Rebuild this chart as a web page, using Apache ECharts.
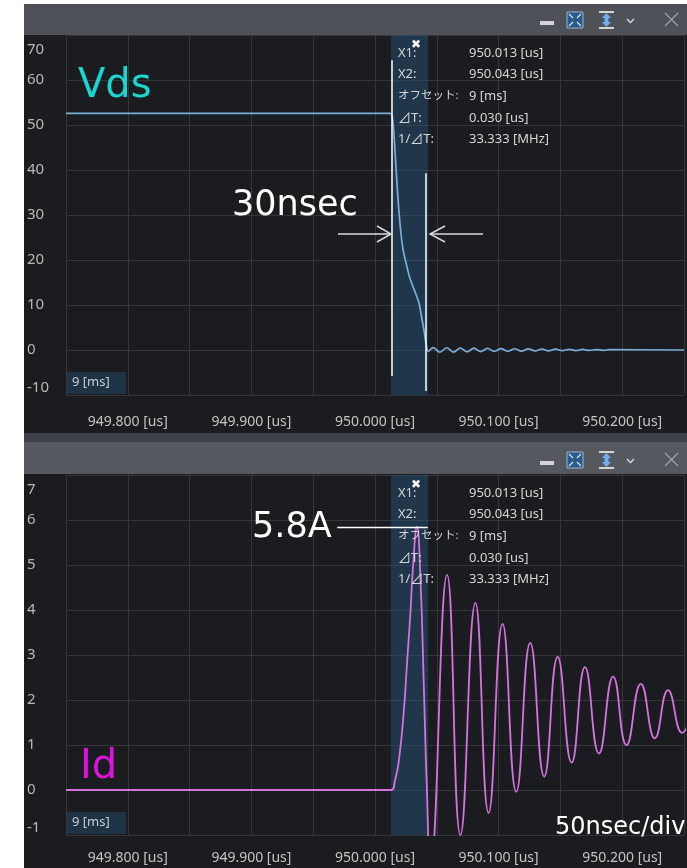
<!DOCTYPE html>
<html><head><meta charset="utf-8">
<script src="https://cdn.jsdelivr.net/npm/echarts@6/dist/echarts.min.js"></script>
<style>html,body{margin:0;padding:0;background:#fff}#c{width:687px;height:868px}</style>
</head><body><div id="c"></div>
<script>
// ---------- data ----------
const xTickValues = [949.8, 949.9, 950.0, 950.1, 950.2];
const xTickLabels = ['949.800 [us]', '949.900 [us]', '950.000 [us]', '950.100 [us]', '950.200 [us]'];

const vdsTime = [949.750, 950.0121, 950.0137, 950.0153, 950.0169, 950.0185, 950.0206, 950.0226, 950.0250,
  950.0282, 950.0323, 950.0355, 950.0379, 950.0399, 950.0415, 950.0431,
  950.0470, 950.0525, 950.0580, 950.0635, 950.0690, 950.0745, 950.0800, 950.0855, 950.0910, 950.0965,
  950.1020, 950.1075, 950.1130, 950.1185, 950.1240, 950.1295, 950.1350, 950.1405, 950.1460, 950.1515,
  950.1570, 950.1625, 950.1680, 950.1735, 950.1790, 950.1845, 950.1900, 950.2500];
const vdsValue = [52.6, 52.6, 52.3, 48.0, 41.0, 34.0, 27.0, 22.5, 19.5,
  16.0, 13.0, 10.5, 7.0, 4.0, 1.0, -0.3,
  0.55, -0.5, 0.5, -0.45, 0.45, -0.4, 0.4, -0.35, 0.35, -0.3,
  0.3, -0.28, 0.28, -0.25, 0.25, -0.2, 0.2, -0.18, 0.18, -0.15,
  0.15, -0.12, 0.12, -0.1, 0.1, -0.08, 0.08, 0.0];

const idTime = [949.750, 950.0129, 950.0161, 950.0194, 950.0234, 950.0261, 950.0288, 950.0306, 950.0339,
  950.0369, 950.0395, 950.0419, 950.0448, 950.0583, 950.0691, 950.0812, 950.0919, 950.1032, 950.1143,
  950.1256, 950.1369, 950.1478, 950.1591, 950.1699, 950.1812, 950.1927, 950.2035, 950.2151, 950.2264,
  950.2371, 950.2484, 950.2597];
const idValue = [0, 0, 0.2, 0.67, 1.78, 2.9, 4.0, 4.9, 5.85,
  4.6, 2.3, 0.1, -1.7, 4.78, -1.0, 4.16, -0.51, 3.69, -0.04,
  3.27, 0.30, 2.96, 0.61, 2.73, 0.81, 2.52, 1.0, 2.36, 1.15,
  2.22, 1.27, 2.12];

const cursorX = [950.013, 950.043];
const cursorLabels = ['X1:', 'X2:', 'オフセット:', '⊿T:', '1/⊿T:'];
const cursorValues = ['950.013 [us]', '950.043 [us]', '9 [ms]', '0.030 [us]', '33.333 [MHz]'];

// annotation positions (data coords)
const vdsMarkX = [950.0134, 950.0409];
const vdsMarkY = [[64.4, -5.8], [39.3, -9.1]];
const idMarkX = [949.9694, 950.0427];
const idMarkY = 5.85;

// ---------- chart ----------
const chart = echarts.init(document.getElementById('c'));
const FONT = '"Noto Sans", "Noto Sans CJK JP", sans-serif';
const gridColor = '#35363a';

function xAxisCfg(gridIndex, margin) {
  return {
    type: 'value', gridIndex, min: 949.75, max: 950.25, interval: 0.05,
    axisLine: { show: false },
    axisTick: { show: true, length: 8, lineStyle: { color: gridColor } },
    splitLine: { show: true, lineStyle: { color: gridColor, width: 1 } },
    axisLabel: {
      color: '#c4c4c4', fontSize: 14, fontFamily: FONT, margin,
      showMinLabel: true, showMaxLabel: true,
      formatter: v => {
        const i = xTickValues.findIndex(t => Math.abs(t - v) < 1e-6);
        return i >= 0 ? xTickLabels[i] : '';
      }
    }
  };
}
function yAxisCfg(gridIndex, min, max, interval) {
  return {
    type: 'value', gridIndex, min, max, interval,
    axisLine: { show: false }, axisTick: { show: false },
    splitLine: { show: true, lineStyle: { color: gridColor, width: 1 } },
    axisLabel: {
      color: '#b8b8b8', fontSize: 15, fontFamily: FONT, align: 'left', margin: 39,
      verticalAlignMaxLabel: 'top', verticalAlignMinLabel: 'bottom',
      formatter: v => (Math.abs(v - max) < 1e-9 ? '{t|' + v + '}' : String(v)),
      rich: { t: { color: '#b8b8b8', fontSize: 15, fontFamily: FONT, padding: [7, 0, 0, 0] } }
    }
  };
}

const g = [];
const txt = (text, x, y, fill, font, extra) => Object.assign({
  type: 'text', z: 60, style: { text, x, y, fill, font, align: 'left', verticalAlign: 'middle' }
}, extra || {});
const line = (x1, y1, x2, y2, stroke, lw) => ({ type: 'line', z: 60, shape: { x1, y1, x2, y2 }, style: { stroke, lineWidth: lw } });

// white margins + frame
g.push({ type: 'rect', z: 40, shape: { x: 0, y: 0, width: 24, height: 868 }, style: { fill: '#ffffff' } });
g.push({ type: 'rect', z: 40, shape: { x: 0, y: 0, width: 687, height: 4 }, style: { fill: '#ffffff' } });
g.push({ type: 'rect', z: 40, shape: { x: 24, y: 4, width: 663, height: 31 }, style: { fill: '#4e5157' } });
g.push({ type: 'rect', z: 40, shape: { x: 24, y: 433, width: 663, height: 9 }, style: { fill: '#3e4147' } });
g.push({ type: 'rect', z: 40, shape: { x: 24, y: 442, width: 663, height: 32 }, style: { fill: '#55585e' } });

function icons(cy) {
  g.push({ type: 'rect', z: 50, shape: { x: 540, y: cy + 1, width: 14, height: 4 }, style: { fill: '#d4d4d4' } });
  g.push({ type: 'rect', z: 50, shape: { x: 567, y: cy - 8, width: 16, height: 16 }, style: { fill: '#2d5a86', stroke: '#8db8e2', lineWidth: 1 } });
  g.push(line(569, cy - 6, 573, cy - 2, '#cfe3f7', 1.2));
  g.push(line(581, cy - 6, 577, cy - 2, '#cfe3f7', 1.2));
  g.push(line(569, cy + 6, 573, cy + 2, '#cfe3f7', 1.2));
  g.push(line(581, cy + 6, 577, cy + 2, '#cfe3f7', 1.2));
  g.push(line(599, cy - 8, 614, cy - 8, '#d4d4d4', 2));
  g.push(line(599, cy + 8, 614, cy + 8, '#d4d4d4', 2));
  g.push({ type: 'polygon', z: 50, shape: { points: [[606.5, cy - 7], [602, cy - 2], [611, cy - 2]] }, style: { fill: '#6fb0ee' } });
  g.push({ type: 'polygon', z: 50, shape: { points: [[606.5, cy + 7], [602, cy + 2], [611, cy + 2]] }, style: { fill: '#6fb0ee' } });
  g.push({ type: 'rect', z: 50, shape: { x: 604.5, y: cy - 3, width: 4, height: 6 }, style: { fill: '#6fb0ee' } });
  g.push({ type: 'polyline', z: 50, shape: { points: [[627, cy - 1], [630.5, cy + 2.5], [634, cy - 1]] }, style: { stroke: '#d4d4d4', lineWidth: 1.5, fill: null } });
  g.push(line(665, cy - 7, 678, cy + 6, '#a0a0a0', 1.2));
  g.push(line(678, cy - 7, 665, cy + 6, '#a0a0a0', 1.2));
}
icons(20); icons(460);

function info(dy) {
  cursorLabels.forEach((l, i) => {
    const y = 53 + i * 21.6 + dy;
    const isJa = /[^\x00-\x7F⊿]/.test(l.replace('⊿', ''));
    g.push(txt(l, 398, y, '#d6d6d6', (isJa ? '11.5px ' : '13px ') + FONT));
    g.push(txt(cursorValues[i], 469, y, '#d6d6d6', '13px ' + FONT));
  });
  g.push(txt('✖', 411, 45 + dy, '#ffffff', 'bold 12px "DejaVu Sans"'));
  g.push({ type: 'rect', z: 55, shape: { x: 67, y: 372 + dy, width: 59, height: 22 }, style: { fill: '#1f3346' } });
  g.push(txt('9 [ms]', 72, 382 + dy, '#c8ccd0', '13px ' + FONT));
}
info(0); info(440);

// annotations
const ANN = '"DejaVu Sans", sans-serif';
g.push(txt('Vds', 78, 87, '#18d6d0', '40px ' + ANN));
g.push(txt('30nsec', 232, 206, '#ffffff', '35px ' + ANN));
g.push(line(338, 234, 391, 234, '#d8d8d8', 1.5));
g.push({ type: 'polyline', z: 60, shape: { points: [[377, 226], [391, 234], [377, 242]] }, style: { stroke: '#d8d8d8', lineWidth: 1.5, fill: null } });
g.push(line(483, 234, 430, 234, '#d8d8d8', 1.5));
g.push({ type: 'polyline', z: 60, shape: { points: [[445, 226], [430, 234], [445, 242]] }, style: { stroke: '#d8d8d8', lineWidth: 1.5, fill: null } });
g.push(txt('5.8A', 252, 528, '#ffffff', '35px ' + ANN));
g.push(txt('Id', 80, 768, '#e010e0', '40px ' + ANN));
g.push(txt('50nsec/div', 555, 828, '#ffffff', '24px ' + ANN));

const band = {
  silent: true, itemStyle: { color: 'rgba(40,90,135,0.42)' },
  data: [[{ xAxis: cursorX[0] }, { xAxis: cursorX[1] }]]
};

const option = {
  animation: false,
  backgroundColor: '#1b1c20',
  grid: [
    { left: 66, top: 35, width: 620, height: 360 },
    { left: 66, top: 475, width: 620, height: 360 }
  ],
  xAxis: [xAxisCfg(0, 20), xAxisCfg(1, 16)],
  yAxis: [yAxisCfg(0, -10, 70, 10), yAxisCfg(1, -1, 7, 1)],
  graphic: g,
  series: [
    {
      type: 'line', xAxisIndex: 0, yAxisIndex: 0, showSymbol: false, smooth: 0.35,
      lineStyle: { color: '#7aaed8', width: 1.7 },
      data: vdsTime.map((t, i) => [t, vdsValue[i]]),
      markArea: band,
      markLine: {
        silent: true, symbol: ['none', 'none'], label: { show: false },
        lineStyle: { color: '#ffffff', width: 1.5, type: 'solid' },
        data: vdsMarkX.map((x, i) => [{ coord: [x, vdsMarkY[i][0]] }, { coord: [x, vdsMarkY[i][1]] }])
      }
    },
    {
      type: 'line', xAxisIndex: 1, yAxisIndex: 1, showSymbol: false, smooth: 0.5,
      lineStyle: { color: '#d472de', width: 1.8 },
      data: idTime.map((t, i) => [t, idValue[i]]),
      markArea: band,
      markLine: {
        silent: true, symbol: ['none', 'none'], label: { show: false },
        lineStyle: { color: '#ffffff', width: 1.3, type: 'solid' },
        data: [[{ coord: [idMarkX[0], idMarkY] }, { coord: [idMarkX[1], idMarkY] }]]
      }
    }
  ]
};
chart.setOption(option);
</script></body></html>
